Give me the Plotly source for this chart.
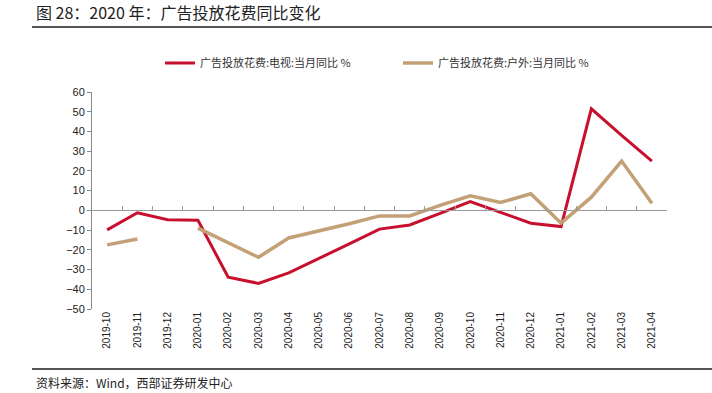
import plotly.graph_objects as go

months = ["2019-10", "2019-11", "2019-12", "2020-01", "2020-02", "2020-03", "2020-04",
          "2020-05", "2020-06", "2020-07", "2020-08", "2020-09", "2020-10", "2020-11",
          "2020-12", "2021-01", "2021-02", "2021-03", "2021-04"]
tv_yoy = [-9.9, -1.2, -4.8, -5.0, -33.9, -37.0, -31.7, -24.5, -17.0, -9.5, -7.4,
          -1.5, 4.5, -1.0, -6.5, -8.2, 51.5, 38.0, 25.0]
outdoor_yoy = [-17.5, -14.5, None, -9.0, -16.5, -23.8, -14.0, -10.5, -6.8, -2.8, -2.8,
               2.5, 7.4, 4.0, 8.4, -6.5, 6.7, 25.0, 3.6]
series_names = ["广告投放花费:电视:当月同比 %", "广告投放花费:户外:当月同比 %"]
y_ticks = list(range(-50, 61, 10))

W, H = 712, 393
# plot-area pixel box (whole figure is the paper, margins 0)
PL, PR, PT, PB = 92, 667, 92, 309


def fx(x):
    return x / W


def fy(y):
    return 1 - y / H


zero_px = PB - (0 - y_ticks[0]) / (y_ticks[-1] - y_ticks[0]) * (PB - PT)

fig = go.Figure()
fig.add_trace(go.Scatter(x=months, y=tv_yoy, mode="lines", name=series_names[0],
                         line=dict(color="#C8102E", width=3), connectgaps=False,
                         legend="legend"))
fig.add_trace(go.Scatter(x=months, y=outdoor_yoy, mode="lines", name=series_names[1],
                         line=dict(color="#C4A077", width=3.5), connectgaps=False,
                         legend="legend2"))
# helper traces for the zero-line axis and the header/footer rule axes
fig.add_trace(go.Scatter(x=months, y=[None] * len(months), xaxis="x2", showlegend=False,
                         hoverinfo="skip"))
fig.add_trace(go.Scatter(x=[None], y=[None], xaxis="x3", yaxis="y3", showlegend=False,
                         hoverinfo="skip"))
fig.add_trace(go.Scatter(x=[None], y=[None], xaxis="x4", yaxis="y4", showlegend=False,
                         hoverinfo="skip"))

leg_common = dict(orientation="h", xanchor="left", yanchor="middle",
                  font=dict(family="Noto Sans CJK SC", size=11, color="#333"),
                  itemwidth=30, bgcolor="rgba(0,0,0,0)")
rule_axis = dict(domain=[fx(32), 1], showline=True, linecolor="#555555", linewidth=1.5,
                 showticklabels=False, ticks="", showgrid=False, zeroline=False,
                 range=[0, 1], fixedrange=True, automargin=False)
hidden_y = dict(visible=False, range=[0, 1], fixedrange=True, automargin=False)

fig.update_layout(
    width=W, height=H,
    margin=dict(l=0, r=0, t=0, b=0),
    paper_bgcolor="white", plot_bgcolor="rgba(0,0,0,0)",
    font=dict(family="Liberation Sans, Arial, Noto Sans CJK SC", color="#222"),
    showlegend=True,
    legend=dict(x=fx(160), y=fy(63), **leg_common),
    legend2=dict(x=fx(398), y=fy(63), **leg_common),
    xaxis=dict(type="category", domain=[fx(PL), fx(PR)], anchor="y",
               range=[-0.5, len(months) - 0.5], showline=False, automargin=False,
               ticks="", tickangle=-90, tickfont=dict(size=10, color="#222"),
               showgrid=False, zeroline=False),
    xaxis2=dict(type="category", overlaying="x", matches="x", anchor="free",
                position=fy(zero_px), side="bottom", showline=True, linecolor="#9a9a9a",
                linewidth=1, ticks="inside", ticklen=4, tickcolor="#9a9a9a",
                tickson="boundaries", showticklabels=False, showgrid=False,
                zeroline=False, automargin=False),
    yaxis=dict(domain=[fy(PB), fy(PT)], anchor="x",
               range=[y_ticks[0], y_ticks[-1]], tickvals=y_ticks, showline=True,
               linecolor="#888", linewidth=1, ticks="outside", ticklen=4, tickcolor="#888",
               showgrid=False, zeroline=False, automargin=False,
               tickfont=dict(size=11, color="#222")),
    xaxis3=dict(anchor="y3", **rule_axis),
    yaxis3=dict(anchor="x3", domain=[fy(26), fy(24)], **hidden_y),
    xaxis4=dict(anchor="y4", **rule_axis),
    yaxis4=dict(anchor="x4", domain=[fy(368), fy(366)], **hidden_y),
)

fig.add_annotation(text="图 28：2020 年：广告投放花费同比变化", xref="paper", yref="paper",
                   x=fx(34), y=fy(12), xanchor="left", yanchor="middle", showarrow=False,
                   font=dict(family="Noto Sans CJK SC", size=16, color="#222"))
fig.add_annotation(text="资料来源：Wind，西部证券研发中心", xref="paper", yref="paper",
                   x=fx(34), y=fy(382), xanchor="left", yanchor="middle", showarrow=False,
                   font=dict(family="Noto Sans CJK SC", size=12, color="#222"))

fig.write_html("out.html", config={"displayModeBar": False},
               post_script="document.body.style.margin='0';")
